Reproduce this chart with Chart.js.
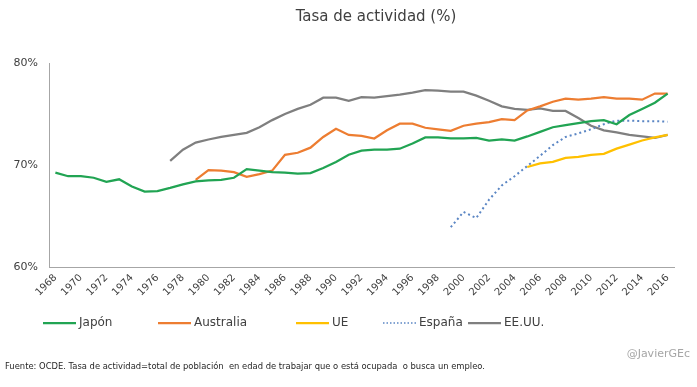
<!DOCTYPE html>
<html>
<head>
<meta charset="utf-8">
<script src="https://cdn.jsdelivr.net/npm/chart.js@4"></script>
<style>
  html, body { margin: 0; padding: 0; background: #fff; }
  #wrap { width: 697px; height: 387px; position: relative; }
</style>
</head>
<body>
<div id="wrap"><canvas id="actividadChart" width="697" height="387"></canvas></div>
<script>
// Años
const years = [];
for (let y = 1968; y <= 2016; y++) years.push(String(y));

// Tasa de actividad (%)
const japon = [69.25, 68.9, 68.9, 68.75, 68.35, 68.6, 67.9, 67.4, 67.45, 67.75,
  68.1, 68.4, 68.5, 68.55, 68.75, 69.6, 69.45, 69.3, 69.25, 69.15,
  69.2, 69.7, 70.3, 71.0, 71.4, 71.5, 71.5, 71.6, 72.1, 72.7,
  72.7, 72.6, 72.6, 72.65, 72.4, 72.5, 72.4, 72.8, 73.25, 73.7,
  73.9, 74.1, 74.3, 74.4, 74.0, 74.9, 75.5, 76.1, 77.0];

const australia = [null, null, null, null, null, null, null, null, null, null,
  null, 68.55, 69.5, 69.45, 69.3, 68.85, 69.1, 69.45, 71.0, 71.2,
  71.7, 72.75, 73.55, 72.95, 72.85, 72.6, 73.4, 74.05, 74.05, 73.65,
  73.5, 73.35, 73.85, 74.05, 74.2, 74.5, 74.4, 75.35, 75.75, 76.2,
  76.5, 76.4, 76.5, 76.65, 76.5, 76.5, 76.4, 77.0, 77.0];

const ue = [null, null, null, null, null, null, null, null, null, null,
  null, null, null, null, null, null, null, null, null, null,
  null, null, null, null, null, null, null, null, null, null,
  null, null, null, null, null, null, null, 69.8, 70.15, 70.3,
  70.7, 70.8, 71.0, 71.1, 71.6, 72.0, 72.4, 72.7, 72.95];

const espana = [null, null, null, null, null, null, null, null, null, null,
  null, null, null, null, null, null, null, null, null, null,
  null, null, null, null, null, null, null, null, null, null,
  null, 63.9, 65.4, 64.8, 66.6, 68.0, 68.9, 69.9, 70.9, 71.95,
  72.75, 73.1, 73.5, 74.0, 74.35, 74.35, 74.3, 74.3, 74.25];

const eeuu = [null, null, null, null, null, null, null, null, null, 70.4,
  71.5, 72.2, 72.5, 72.75, 72.95, 73.15, 73.7, 74.4, 75.0, 75.5,
  75.9, 76.6, 76.6, 76.3, 76.65, 76.6, 76.75, 76.9, 77.1, 77.35,
  77.3, 77.2, 77.2, 76.8, 76.3, 75.75, 75.5, 75.4, 75.55, 75.3,
  75.3, 74.6, 73.85, 73.4, 73.2, 72.95, 72.8, 72.65, 72.95];

const yTicks = [60, 70, 80];

const FONT = "'DejaVu Sans', sans-serif";

// Título, leyenda y pie dibujados a mano
const extras = {
  id: 'extras',
  afterDraw(chart) {
    const ctx = chart.ctx;
    ctx.save();
    ctx.fillStyle = '#404040';
    ctx.font = "15px " + FONT;
    ctx.textAlign = 'center';
    ctx.textBaseline = 'middle';
    ctx.fillText('Tasa de actividad (%)', 376, 17);

    // leyenda
    const pos = [43, 158, 296, 383, 468];
    ctx.font = "12px " + FONT;
    ctx.textAlign = 'left';
    chart.data.datasets.forEach((ds, i) => {
      const x = pos[i], y = 323;
      ctx.strokeStyle = ds.borderColor;
      ctx.lineWidth = ds.borderDash ? 1.5 : 2.25;
      ctx.setLineDash(ds.borderDash ? [1.5, 2] : []);
      ctx.beginPath();
      ctx.moveTo(x, y);
      ctx.lineTo(x + 33, y);
      ctx.stroke();
      ctx.setLineDash([]);
      ctx.fillStyle = '#404040';
      ctx.fillText(ds.label, x + 36, y);
    });

    // pie
    ctx.font = "8.4px " + FONT;
    ctx.fillStyle = '#262626';
    ctx.fillText('Fuente: OCDE. Tasa de actividad=total de población  en edad de trabajar que o está ocupada  o busca un empleo.', 5, 367);
    ctx.font = "11px " + FONT;
    ctx.fillStyle = '#a6a6a6';
    ctx.textAlign = 'right';
    ctx.fillText('@JavierGEc', 690, 354);
    ctx.restore();
  }
};

const ctx = document.getElementById('actividadChart').getContext('2d');
new Chart(ctx, {
  type: 'line',
  data: {
    labels: years,
    datasets: [
      { label: 'Japón', data: japon, borderColor: '#21a453' },
      { label: 'Australia', data: australia, borderColor: '#ed7d31' },
      { label: 'UE', data: ue, borderColor: '#ffc000' },
      { label: 'España', data: espana, borderColor: '#5b86c4', borderDash: [2, 3], borderWidth: 2 },
      { label: 'EE.UU.', data: eeuu, borderColor: '#7f7f7f' }
    ]
  },
  options: {
    responsive: false,
    animation: false,
    datasets: { line: { borderWidth: 2.25, pointRadius: 0, tension: 0, spanGaps: false } },
    layout: { padding: { top: 63, bottom: 80, left: 0, right: 23 } },
    plugins: {
      legend: { display: false },
      title: { display: false },
      tooltip: { enabled: false }
    },
    scales: {
      x: {
        offset: true,
        grid: { display: false, drawTicks: false },
        border: { display: true, color: '#a6a6a6', width: 1 },
        afterFit(scale) { scale.height = 40; },
        ticks: {
          autoSkip: false,
          minRotation: 45,
          maxRotation: 45,
          padding: 5,
          color: '#404040',
          font: { family: FONT, size: 10 },
          callback(v, i) { return i % 2 === 0 ? years[i] : ''; }
        }
      },
      y: {
        min: 60,
        max: 80,
        grid: { display: false, drawTicks: false },
        border: { display: true, color: '#a6a6a6', width: 1 },
        afterFit(scale) { scale.width = 49; },
        afterBuildTicks(scale) { scale.ticks = yTicks.map(v => ({ value: v })); },
        ticks: {
          padding: 11,
          color: '#404040',
          font: { family: FONT, size: 11 },
          callback(v) { return v + '%'; }
        }
      }
    }
  },
  plugins: [extras]
});
</script>
</body>
</html>
